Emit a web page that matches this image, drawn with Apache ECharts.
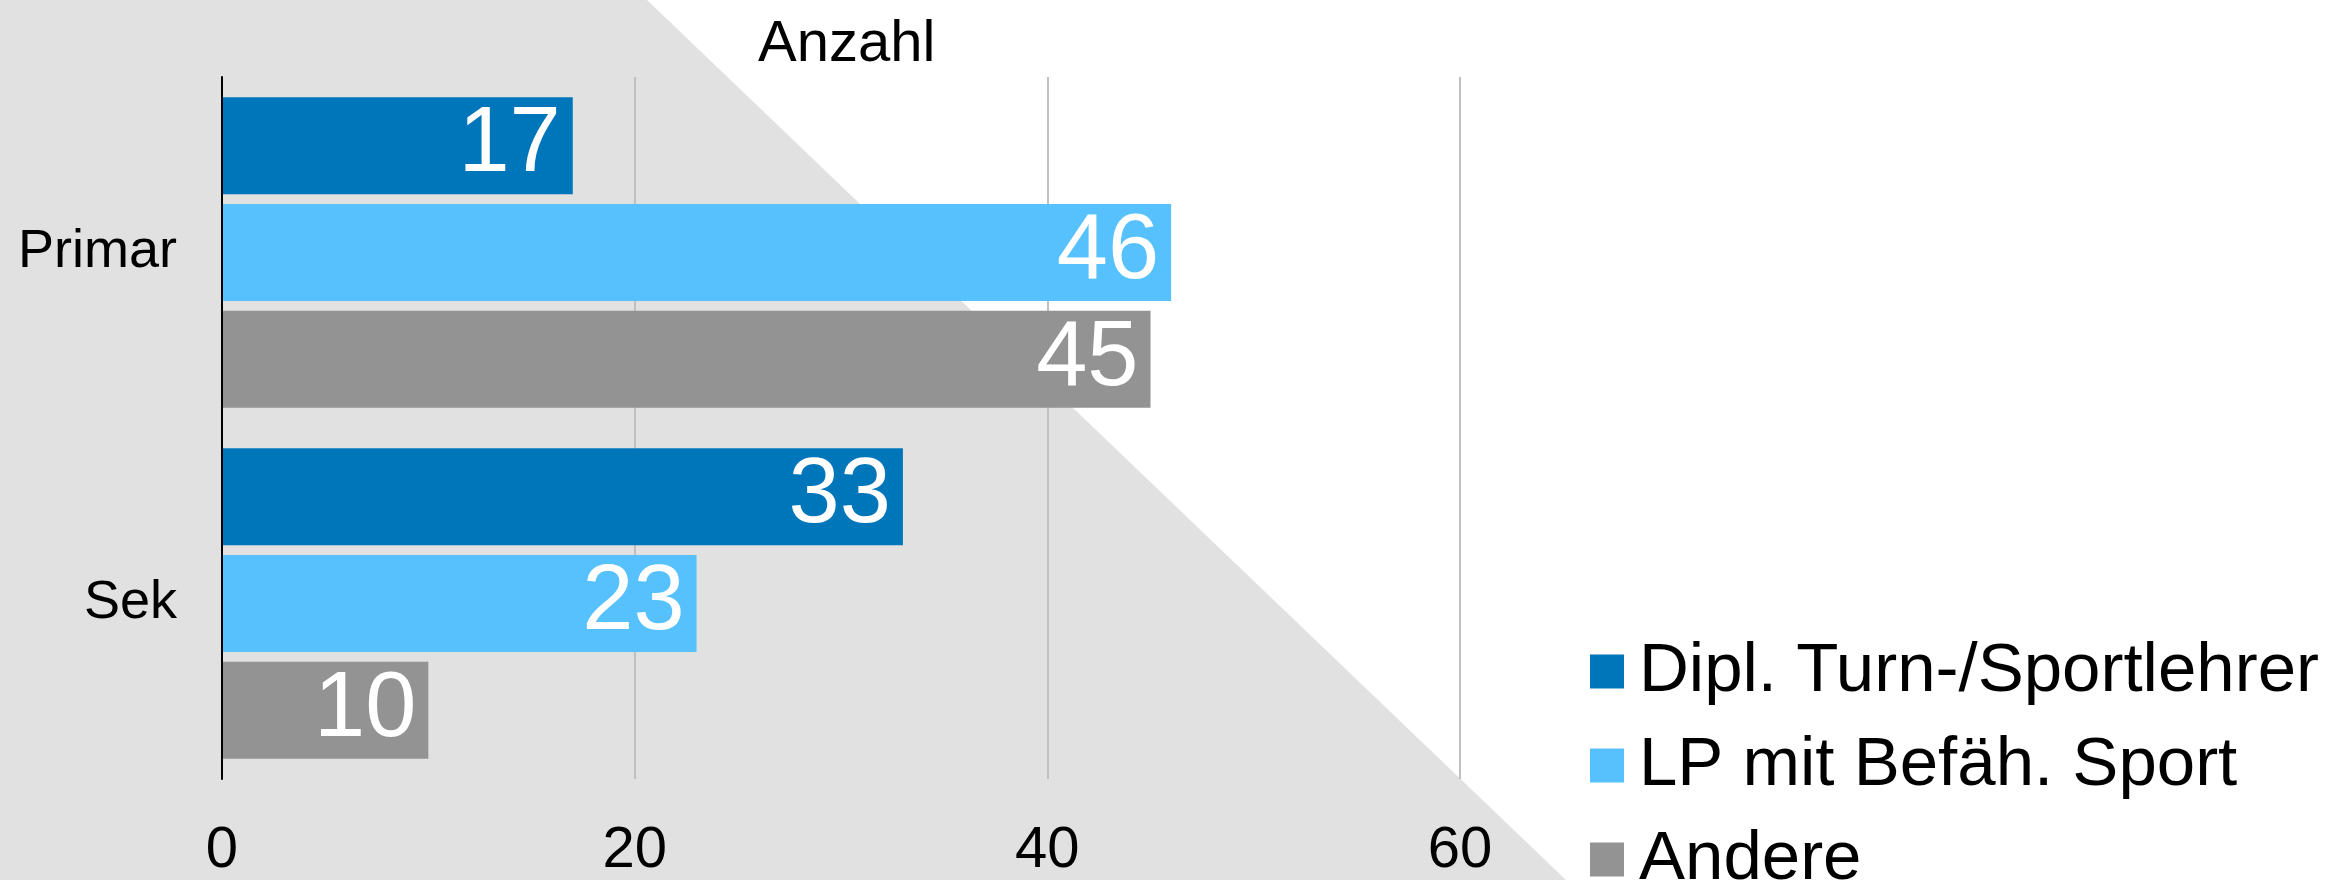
<!DOCTYPE html>
<html>
<head>
<meta charset="utf-8">
<script src="https://cdn.jsdelivr.net/npm/echarts@6/dist/echarts.min.js"></script>
<style>
html,body{margin:0;padding:0;background:#ffffff;}
#chart{width:2351px;height:880px;}
</style>
</head>
<body>
<div id="chart"></div>
<script>
const categories = ['Primar', 'Sek'];
const seriesNames = ['Dipl. Turn-/Sportlehrer', 'LP mit Befäh. Sport', 'Andere'];
const diplValues = [17, 33];
const lpValues = [46, 23];
const andereValues = [45, 10];
const xTicks = [0, 20, 40, 60];
const colors = ['#0076ba', '#57c1fe', '#939393'];

const FONT = '"Liberation Sans", Arial, sans-serif';
const chart = echarts.init(document.getElementById('chart'), null, {renderer: 'canvas'});

function barSeries(name, data, color) {
  return {
    name: name,
    type: 'bar',
    data: data,
    barWidth: 97,
    barGap: '10%',
    itemStyle: {color: color},
    label: {
      show: true,
      position: 'insideRight',
      distance: 12,
      color: '#ffffff',
      fontFamily: FONT,
      fontSize: 92
    },
    z: 3
  };
}

chart.setOption({
  backgroundColor: '#ffffff',
  animation: false,
  title: {
    text: 'Anzahl',
    left: 753,
    top: 11,
    textStyle: {fontFamily: FONT, fontSize: 58, fontWeight: 'normal', color: '#000000', lineHeight: 58}
  },
  graphic: [{
    type: 'polygon',
    z: -10,
    silent: true,
    shape: {points: [[0, 0], [647, 0], [1566, 880], [0, 880]]},
    style: {fill: '#e1e1e1'}
  }],
  legend: {
    orient: 'vertical',
    left: 1590,
    top: 637,
    height: 400,
    padding: 0,
    itemWidth: 34,
    itemHeight: 34,
    itemGap: 25,
    icon: 'rect',
    data: seriesNames,
    textStyle: {fontFamily: FONT, fontSize: 69, color: '#000000', lineHeight: 69, padding: [0, 0, 0, 10]}
  },
  grid: {left: 222, right: 891, top: 77, bottom: 98, containLabel: false},
  xAxis: {
    type: 'value',
    min: 0,
    max: 60,
    interval: 20,
    axisLine: {show: false},
    axisTick: {show: false},
    splitLine: {show: true, lineStyle: {color: '#c0c0c0', width: 2}},
    axisLabel: {
      margin: 43,
      fontFamily: FONT,
      fontSize: 58,
      color: '#000000',
      formatter: function (v) { return xTicks.indexOf(v) >= 0 ? String(v) : ''; }
    }
  },
  yAxis: {
    type: 'category',
    data: categories,
    inverse: true,
    axisLine: {show: true, lineStyle: {color: '#000000', width: 2}},
    axisTick: {show: false},
    axisLabel: {margin: 45, fontFamily: FONT, fontSize: 54, color: '#000000'},
    z: 5
  },
  series: [
    barSeries(seriesNames[0], diplValues, colors[0]),
    barSeries(seriesNames[1], lpValues, colors[1]),
    barSeries(seriesNames[2], andereValues, colors[2])
  ]
});
</script>
</body>
</html>
